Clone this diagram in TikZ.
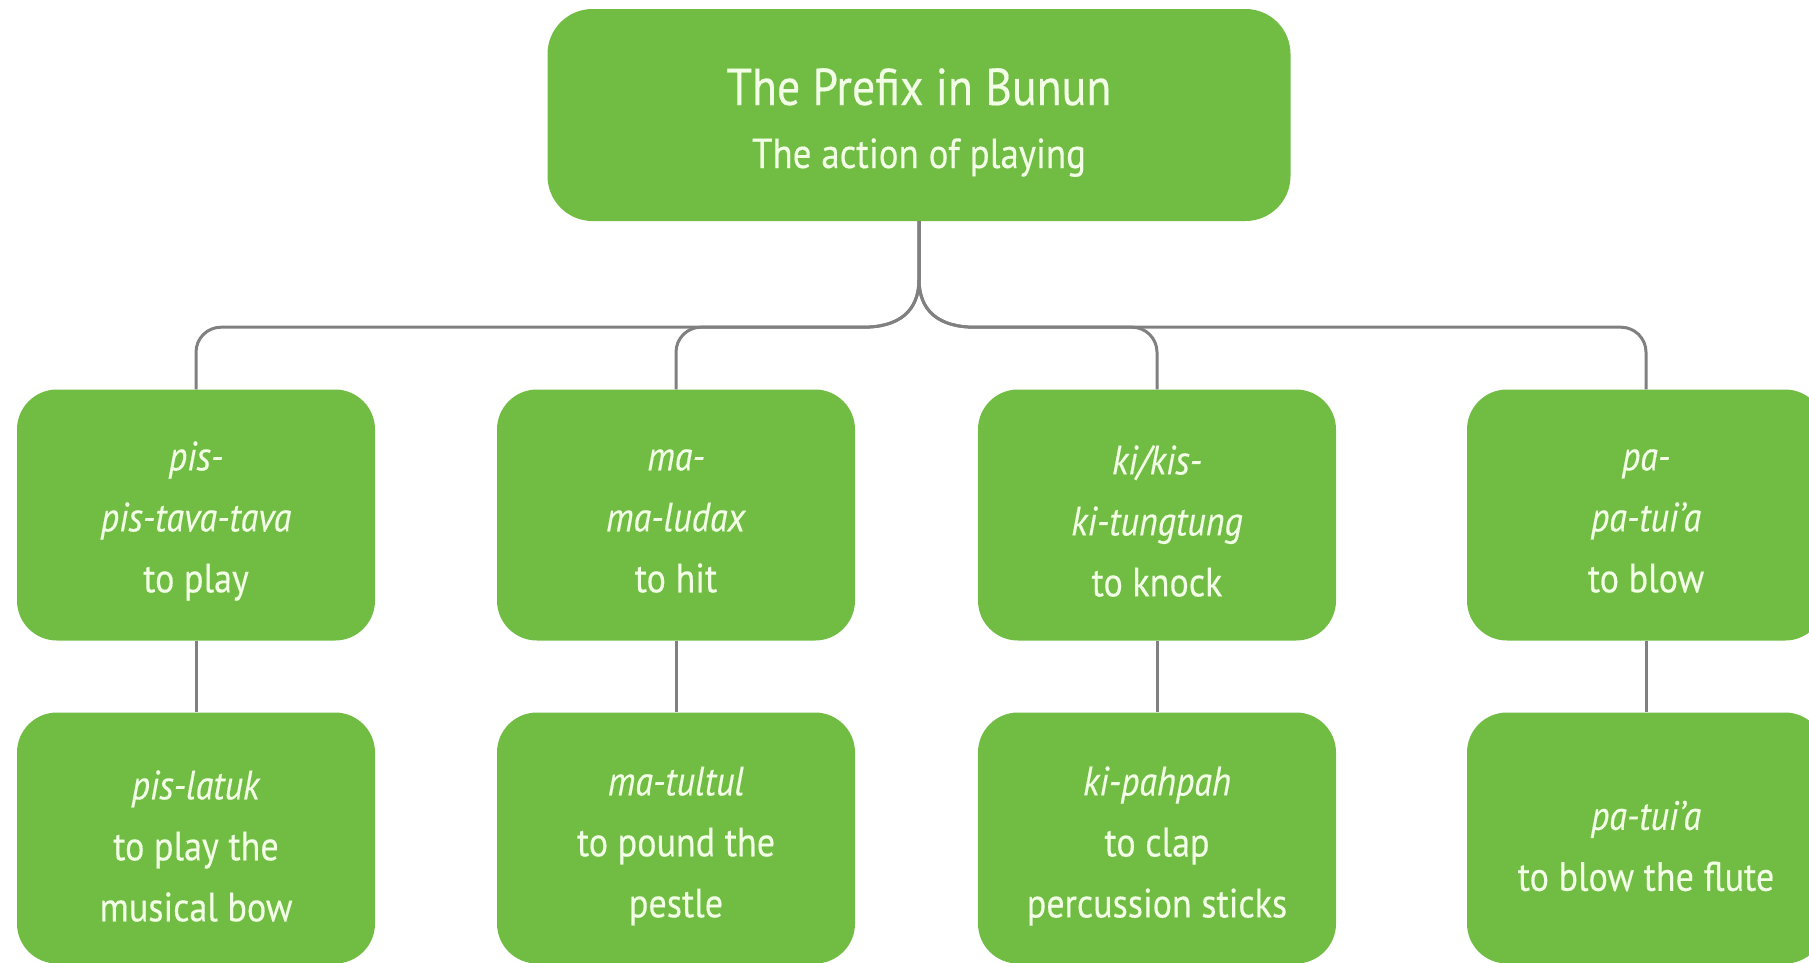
\documentclass[tikz,border=0pt]{standalone}
\usepackage{fontspec}
\setmainfont{PT Sans}[FakeStretch=0.88, FakeBold=0.3]
\usetikzlibrary{calc}
\definecolor{boxgreen}{RGB}{113,189,68}
\definecolor{linegray}{RGB}{128,128,128}
\definecolor{boxtext}{RGB}{242,255,230}
\tikzset{
  box/.style={fill=boxgreen, rounded corners=40pt, minimum width=358pt,
    minimum height=251pt, inner sep=0pt},
  topbox/.style={fill=boxgreen, rounded corners=45pt, minimum width=743pt,
    minimum height=212pt, inner sep=0pt},
  txt/.style={align=center, text=boxtext, inner sep=0pt,
    font=\fontsize{41}{61}\selectfont},
  conn/.style={draw=linegray, line width=3pt}
}
\begin{document}
\begin{tikzpicture}[x=1pt,y=-1pt]
\useasboundingbox (0,0) rectangle (1809,962);
\fill[white] (0,0) rectangle (1809,962);
\clip (0,0) rectangle (1809,962);

\node[topbox] (top) at (919,115) {};
\node[txt, anchor=base, font=\fontsize{52}{60}\selectfont] (title) at (919,105) {The Prefix in Bunun};
\node[txt, anchor=base, font=\fontsize{42}{50}\selectfont] (subtitle) at (919,168) {The action of playing};

\node[box] (a1) at (196,515) {};
\node[box] (b1) at (676,515) {};
\node[box] (c1) at (1157,515) {};
\node[box] (d1) at (1646,515) {};
\node[box] (a2) at (196,838) {};
\node[box] (b2) at (676,838) {};
\node[box] (c2) at (1157,838) {};
\node[box] (d2) at (1646,838) {};

\node[txt] (a1t) at (196,521) {\textit{pis-}\\\textit{pis-tava-tava}\\to play};
\node[txt] (b1t) at (676,521) {\textit{ma-}\\\textit{ma-ludax}\\to hit};
\node[txt] (c1t) at (1157,521) {\textit{ki/kis-}\\\textit{ki-tungtung}\\to knock};
\node[txt] (d1t) at (1646,521) {\textit{pa-}\\\textit{pa-tui’a}\\to blow};

\node[txt] (a2t) at (196,846) {\textit{pis-latuk}\\to play the\\musical bow};
\node[txt] (b2t) at (676,846) {\textit{ma-tultul}\\to pound the\\pestle};
\node[txt] (c2t) at (1157,846) {\textit{ki-pahpah}\\to clap\\percussion sticks};
\node[txt] (d2t) at (1646,846) {\textit{pa-tui’a}\\to blow the flute};

\coordinate (J) at ($(top.south)+(0,58)$);
\coordinate (H) at ($(J)+(0,48)$);
\foreach \c/\s in {a1/-1,b1/-1,c1/1,d1/1}{
  \draw[conn] (top.south) -- (J)
    .. controls ($(J)+(0,32)$) and ($(J)+(\s*20,48)$) .. ($(J)+(\s*56,48)$)
    [rounded corners=25pt] -- (\c.north |- H) -- (\c.north);
}
\foreach \u/\l in {a1/a2,b1/b2,c1/c2,d1/d2}{
  \draw[conn] (\u.south) -- (\l.north);
}
\end{tikzpicture}
\end{document}
